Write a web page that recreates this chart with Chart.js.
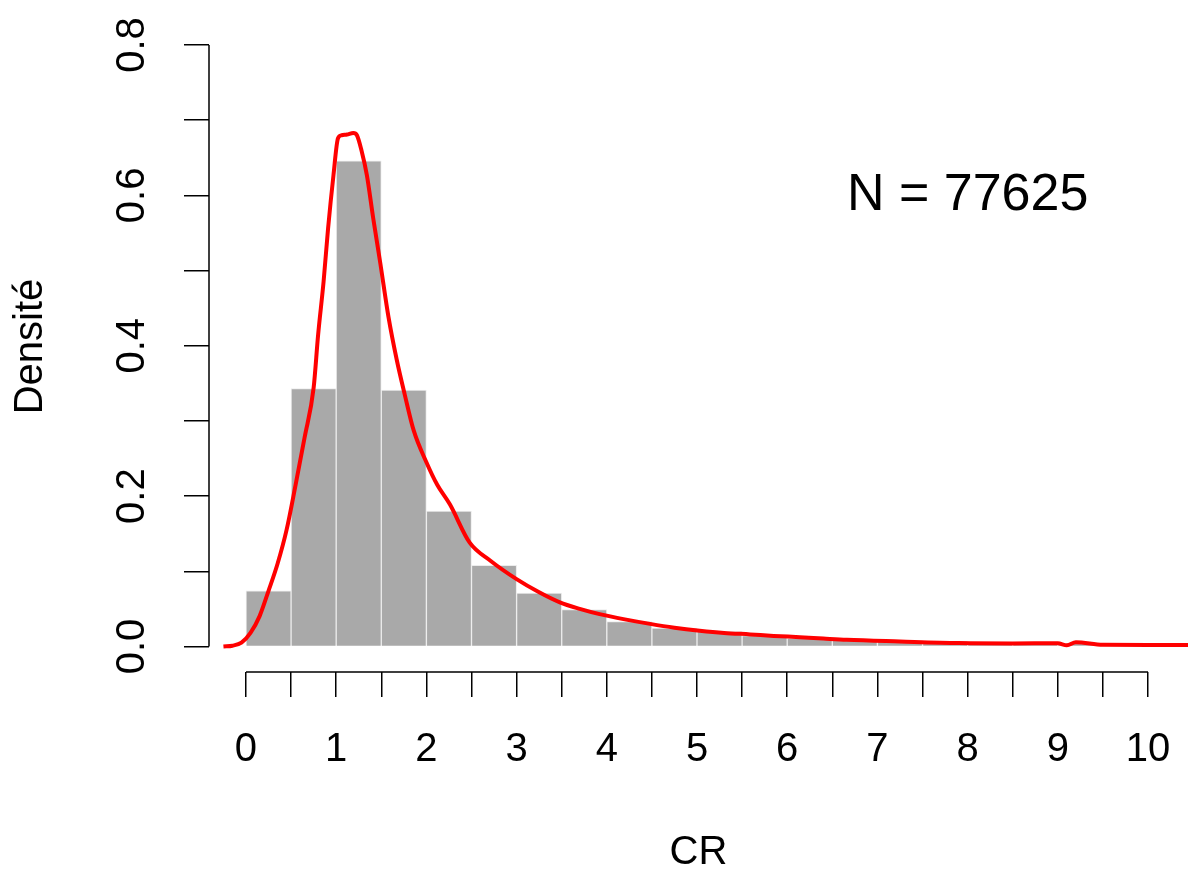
<!DOCTYPE html>
<html lang="fr">
<head>
<meta charset="utf-8">
<title>Densité CR</title>
<script src="https://cdn.jsdelivr.net/npm/chart.js@4.4.1/dist/chart.umd.min.js"></script>
<style>
  html, body { margin: 0; padding: 0; background: #fff; }
  #wrap { width: 1188px; height: 870px; }
</style>
</head>
<body>
<div id="wrap"><canvas id="hist" width="1188" height="870"></canvas></div>
<script>
// Histogramme (densité) : début de classe, largeur 0.5
const binStarts = [0, 0.5, 1, 1.5, 2, 2.5, 3, 3.5, 4, 4.5, 5, 5.5, 6, 6.5, 7, 7.5, 8, 8.5, 9, 9.5];
const binDensity = [0.074, 0.343, 0.646, 0.341, 0.180, 0.108, 0.071, 0.049, 0.033, 0.0244, 0.020, 0.0146,
                    0.011, 0.009, 0.008, 0.007, 0.005, 0.004, 0.004, 0.003];
const binWidth = 0.5;

// Courbe de densité (estimation à noyau)
const curveX = [-0.25, -0.15, -0.05, 0.05, 0.15, 0.25, 0.35, 0.45, 0.55, 0.65, 0.75, 0.80, 0.86, 0.91, 0.97,
                1.02, 1.06, 1.12, 1.19, 1.23, 1.28, 1.34, 1.41, 1.49, 1.58, 1.67, 1.76, 1.86, 2.00, 2.12,
                2.26, 2.48, 2.71, 3.00, 3.25, 3.48, 3.70, 3.92, 4.20, 4.48, 4.75, 5.03, 5.30, 5.59, 5.85,
                6.14, 6.40, 6.66, 7.25, 7.90, 8.50, 9.00, 9.10, 9.20, 9.50, 10.00, 10.45];
const curveY = [0.000, 0.001, 0.005, 0.018, 0.040, 0.074, 0.110, 0.155, 0.215, 0.278, 0.344, 0.415, 0.485, 0.556, 0.627,
                0.676, 0.680, 0.681, 0.683, 0.680, 0.660, 0.627, 0.570, 0.509, 0.438, 0.382, 0.335, 0.287, 0.245, 0.215,
                0.189, 0.138, 0.114, 0.0895, 0.072, 0.0586, 0.050, 0.043, 0.036, 0.030, 0.025, 0.021, 0.018, 0.016, 0.014,
                0.0123, 0.0105, 0.0088, 0.0066, 0.0045, 0.0040, 0.0042, 0.0015, 0.0055, 0.0022, 0.0020, 0.0020];

const xTicksLabelled = [0, 1, 2, 3, 4, 5, 6, 7, 8, 9, 10];
const yTicksLabelled = [0, 0.2, 0.4, 0.6, 0.8];
const annotation = { x: 8, y: 0.6, text: 'N = 77625' };

const FONT = '"Liberation Sans", Arial, sans-serif';

const barPoints = binStarts.map((s, i) => ({ x: s + binWidth / 2, y: binDensity[i] }));
const curvePoints = curveX.map((x, i) => ({ x, y: curveY[i] }));

// axes façon R : segment du premier au dernier repère + étiquettes verticales en y
const axesR = {
  id: 'axesR',
  afterDraw(chart) {
    const { ctx, chartArea, scales: { x, y } } = chart;
    ctx.save();
    ctx.strokeStyle = '#000';
    ctx.lineWidth = 1.5;
    ctx.beginPath();
    ctx.moveTo(x.getPixelForValue(0), chartArea.bottom);
    ctx.lineTo(x.getPixelForValue(10), chartArea.bottom);
    ctx.moveTo(chartArea.left, y.getPixelForValue(0));
    ctx.lineTo(chartArea.left, y.getPixelForValue(0.8));
    ctx.stroke();

    ctx.fillStyle = '#000';
    ctx.font = '40px ' + FONT;
    ctx.textAlign = 'center';
    ctx.textBaseline = 'middle';
    yTicksLabelled.forEach(v => {
      ctx.save();
      ctx.translate(chartArea.left - 76, y.getPixelForValue(v));
      ctx.rotate(-Math.PI / 2);
      ctx.fillText(v.toFixed(1), 0, 0);
      ctx.restore();
    });

    ctx.font = '52px ' + FONT;
    ctx.fillText(annotation.text, x.getPixelForValue(annotation.x), y.getPixelForValue(annotation.y));
    ctx.restore();
  }
};

new Chart(document.getElementById('hist').getContext('2d'), {
  type: 'bar',
  data: {
    datasets: [
      {
        type: 'line', label: 'densité', data: curvePoints, order: 0,
        borderColor: '#ff0000', borderWidth: 4, pointRadius: 0,
        cubicInterpolationMode: 'monotone', fill: false, clip: false
      },
      {
        type: 'bar', label: 'histogramme', data: barPoints, order: 1,
        backgroundColor: '#a9a9a9', borderColor: '#ececec', borderWidth: 1,
        barPercentage: 1, categoryPercentage: 1
      }
    ]
  },
  options: {
    responsive: false,
    animation: false,
    layout: { padding: { top: 21, right: 0, left: 0, bottom: 0 } },
    plugins: { legend: { display: false }, tooltip: { enabled: false } },
    scales: {
      x: {
        type: 'linear', min: -0.41, max: 10.443, offset: false,
        afterFit: (s) => { s.height = 198; s.paddingLeft = 0; s.paddingRight = 0; },
        border: { display: false },
        grid: { offset: false, drawOnChartArea: false, drawTicks: true, tickLength: 25, color: '#000', lineWidth: 1.5 },
        ticks: {
          stepSize: 0.5, includeBounds: false, autoSkip: false, maxRotation: 0, padding: 29,
          color: '#000', font: { family: FONT, size: 40 },
          callback: (v) => xTicksLabelled.includes(v) ? String(v) : ''
        },
        title: { display: true, text: 'CR', color: '#000', padding: 0,
                 font: { family: FONT, size: 40, lineHeight: 0.85 } }
      },
      y: {
        type: 'linear', min: -0.034, max: 0.832,
        afterFit: (s) => { s.width = 209; s.paddingTop = 0; s.paddingBottom = 0; },
        border: { display: false },
        grid: { drawOnChartArea: false, drawTicks: true, tickLength: 25, color: '#000', lineWidth: 1.5 },
        ticks: { stepSize: 0.1, includeBounds: false, display: false },
        title: { display: true, text: 'Densité', color: '#000', padding: { top: 7, bottom: 0 },
                 font: { family: FONT, size: 40, lineHeight: 1.2 } }
      }
    }
  },
  plugins: [axesR]
});
</script>
</body>
</html>
